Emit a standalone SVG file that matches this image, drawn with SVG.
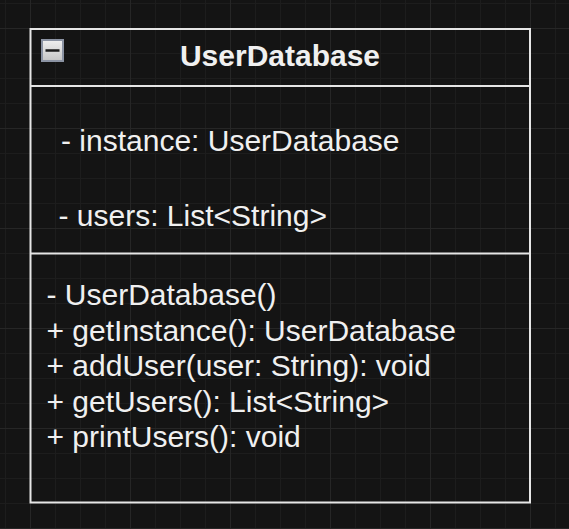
<svg xmlns="http://www.w3.org/2000/svg" width="569" height="529" viewBox="0 0 569 529">
<defs>
<pattern id="minor" x="5" y="3" width="25" height="25" patternUnits="userSpaceOnUse">
<path d="M0 0.5H25M0.5 0V25" stroke="#1d1d1d" stroke-width="1" fill="none"/>
</pattern>
<pattern id="major" x="30" y="28" width="100" height="100" patternUnits="userSpaceOnUse">
<path d="M0 0.5H100M0.5 0V100" stroke="#262626" stroke-width="1" fill="none"/>
</pattern>
<linearGradient id="btn" x1="0" y1="0" x2="0" y2="1">
<stop offset="0" stop-color="#f0f0f0"/>
<stop offset="1" stop-color="#c4c4c4"/>
</linearGradient>
<style>
.t{font-family:"Liberation Sans",Arial,sans-serif;font-size:30px;fill:#f0f0f0}
.h{font-weight:bold;text-anchor:middle}
.ln{stroke:#e6e6e6;stroke-width:2;fill:none}
</style>
</defs>
<rect width="569" height="529" fill="#141414"/>
<rect width="569" height="529" fill="url(#minor)"/>
<rect width="569" height="529" fill="url(#major)"/>
<g id="UserDatabase">
<rect x="30.5" y="29" width="499.5" height="473.5" fill="#141414" class="ln"/>
<line x1="30.5" y1="86" x2="530" y2="86" class="ln"/>
<line x1="30.5" y1="253.5" x2="530" y2="253.5" class="ln"/>
<g id="collapse">
<rect x="42" y="40" width="21" height="21" fill="url(#btn)" stroke="#8b93a3" stroke-width="2"/>
<line x1="45.5" y1="50.5" x2="59.5" y2="50.5" stroke="#1a1a1a" stroke-width="2.5"/>
</g>
<text class="t h" x="280" y="66">UserDatabase</text>
<text class="t" x="61" y="150.5">- instance: UserDatabase</text>
<text class="t" x="58.5" y="226">- users: List&lt;String&gt;</text>
<text class="t" x="46.5" y="305">- UserDatabase()</text>
<text class="t" x="46.5" y="340.5">+ getInstance(): UserDatabase</text>
<text class="t" x="46.5" y="376">+ addUser(user: String): void</text>
<text class="t" x="46.5" y="411.5">+ getUsers(): List&lt;String&gt;</text>
<text class="t" x="46.5" y="447">+ printUsers(): void</text>
</g>
<g id="connectors"/>
</svg>
